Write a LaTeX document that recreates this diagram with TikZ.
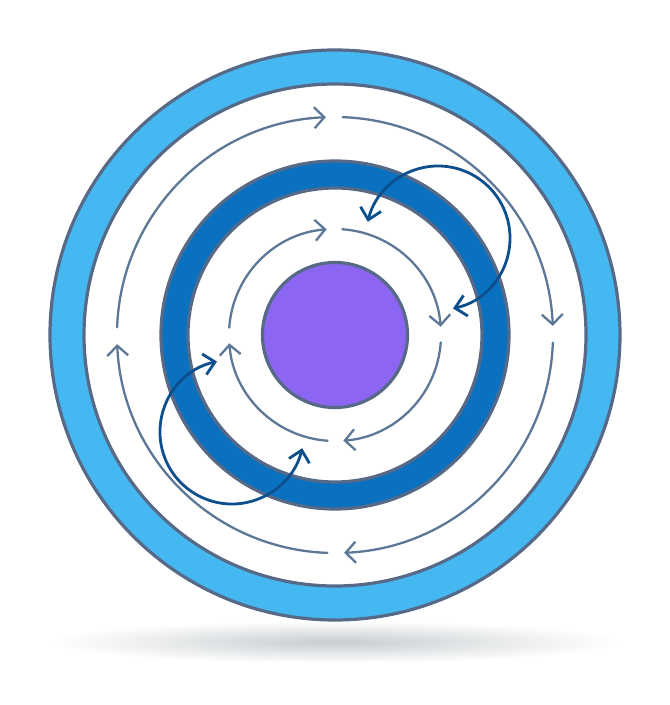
\documentclass[tikz,border=0pt]{standalone}
\usepackage{xcolor}
\usepackage{tikz}
\usetikzlibrary{arrows.meta,positioning}
\definecolor{ringedge}{RGB}{86,106,136}
\definecolor{skyring}{RGB}{69,184,242}
\definecolor{deepring}{RGB}{10,112,192}
\definecolor{corepurple}{RGB}{140,102,242}
\definecolor{flowgray}{RGB}{93,120,150}
\definecolor{navyloop}{RGB}{13,78,140}
\definecolor{floorshade}{RGB}{200,205,208}
\tikzset{
  ringdisc/.style={
    circle, draw=ringedge, line width=3.2pt, inner sep=0pt
  },
  circflow/.style={
    draw=flowgray, line width=2.3pt, line cap=round,
    -{Straight Barb[length=10pt,width=21pt,line width=2.3pt]}
  },
  crossflow/.style={
    draw=navyloop, line width=2.8pt, line cap=round,
    {Straight Barb[length=11pt,width=21pt,line width=2.8pt]}-{Straight Barb[length=11pt,width=21pt,line width=2.8pt]}
  },
}

\begin{document}
\begin{tikzpicture}[x=1pt, y=1pt]
  \useasboundingbox (-335,-370) rectangle (335,335);

  % Floor shadow
  \shade[inner color=floorshade, outer color=white] (0,-307) ellipse [x radius=285, y radius=21];

  % Rings, outside in
  \node[ringdisc, fill=skyring, minimum size=570] (outer) at (0,0) {};
  \node[ringdisc, fill=white, minimum size=502] (outergap) at (0,0) {};
  \node[ringdisc, fill=deepring, minimum size=348] (middle) at (0,0) {};
  \node[ringdisc, fill=white, minimum size=294] (innergap) at (0,0) {};
  \node[ringdisc, fill=corepurple, minimum size=145] (core) at (0,0) {};

  % Outer circulation
  \draw[circflow] (178:218) arc[start angle=178, end angle=92.4, radius=218];
  \draw[circflow] (88:218) arc[start angle=88, end angle=2.4, radius=218];
  \draw[circflow] (-2:218) arc[start angle=-2, end angle=-87.6, radius=218];
  \draw[circflow] (-92:218) arc[start angle=-92, end angle=-177.6, radius=218];

  % Inner circulation
  \draw[circflow] (176:106) arc[start angle=176, end angle=94.5, radius=106];
  \draw[circflow] (86:106) arc[start angle=86, end angle=4.5, radius=106];
  \draw[circflow] (-4:106) arc[start angle=-4, end angle=-85.5, radius=106];
  \draw[circflow] (-94:106) arc[start angle=-94, end angle=-175.5, radius=106];

  % Exchange loops across the middle ring
  \coordinate (hubNE) at (103,97);
  \coordinate (hubSW) at (-103,-97);
  \draw[crossflow] ([shift={(-78:72)}]hubNE) arc[start angle=-78, end angle=167, radius=72];
  \draw[crossflow] ([shift={(102:72)}]hubSW) arc[start angle=102, end angle=347, radius=72];
\end{tikzpicture}
\end{document}
